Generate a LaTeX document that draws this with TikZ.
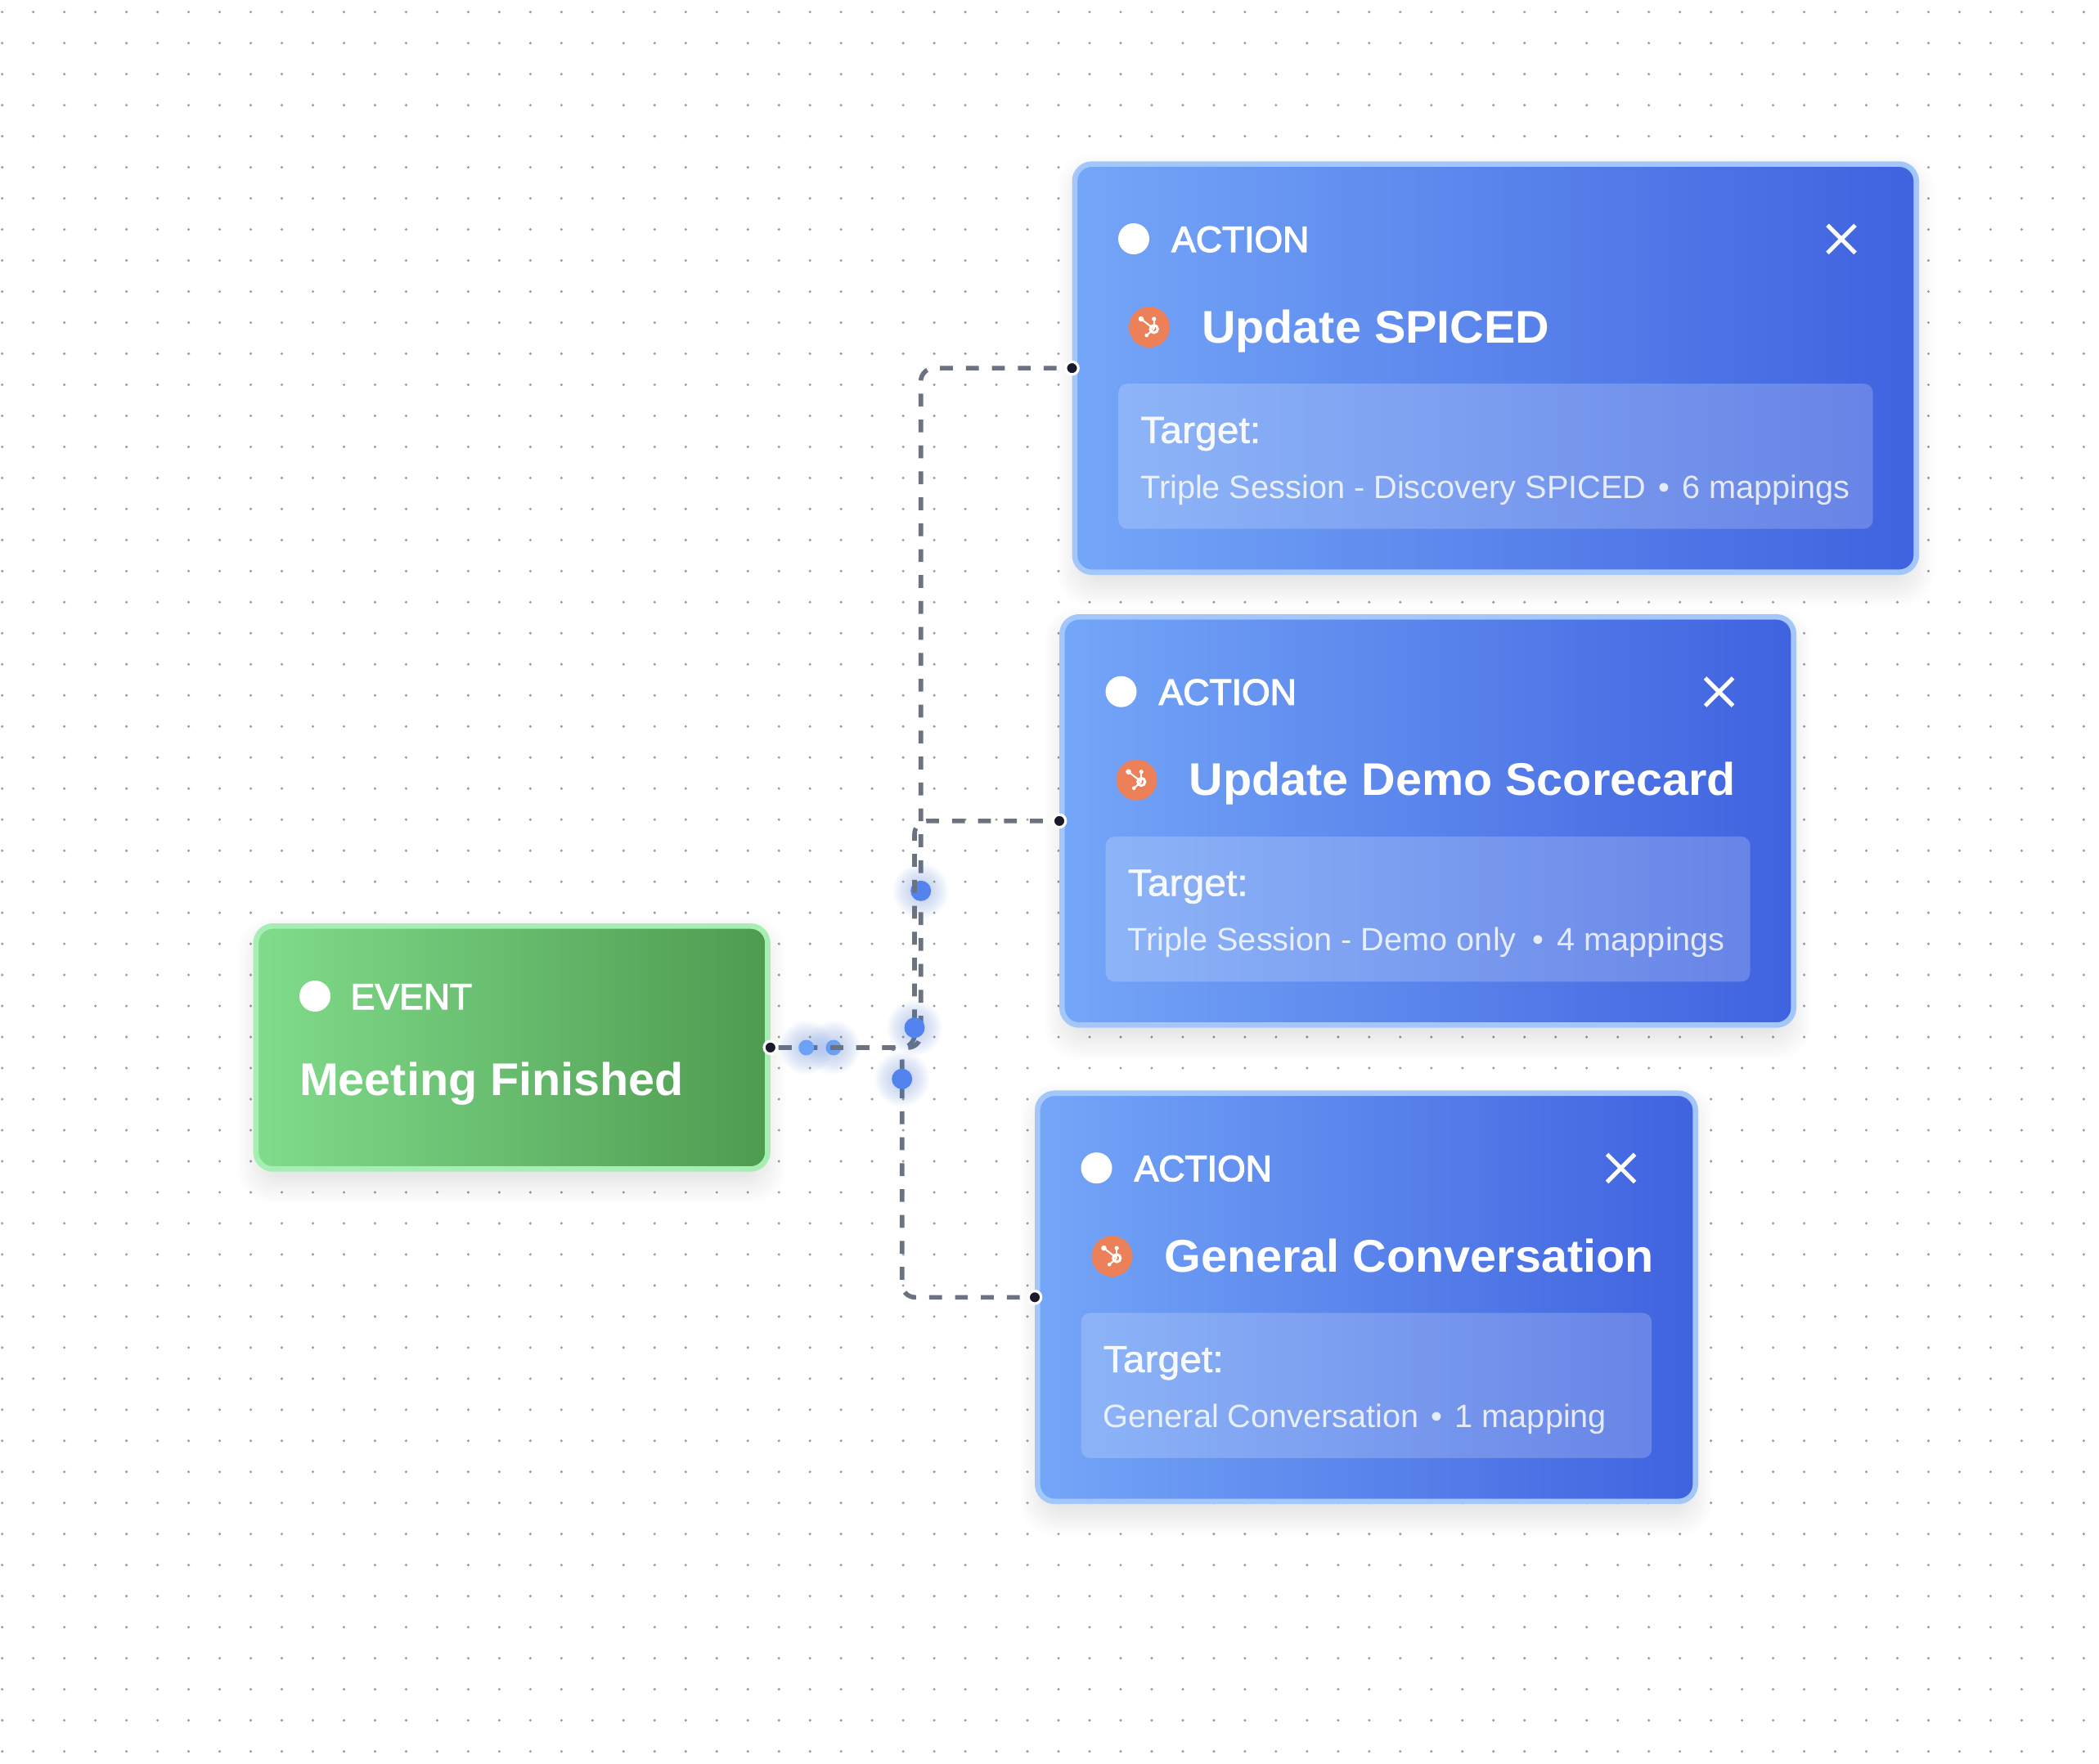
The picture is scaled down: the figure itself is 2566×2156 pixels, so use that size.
\documentclass[tikz,border=0pt]{standalone}
\usepackage{fontspec}
\usetikzlibrary{shapes.misc}
\setmainfont{Liberation Sans}
\newfontfamily\titlefont[FakeStretch=1.028]{Liberation Sans Bold}
\newfontfamily\labelfont[FakeBold=2.8]{Liberation Sans}
\newfontfamily\targetfont[FakeBold=1.2,FakeStretch=1.045]{Liberation Sans}
\newfontfamily\mapsfont[FakeStretch=1.005]{Liberation Sans}
\definecolor{actionleft}{HTML}{74A6F8}
\definecolor{actionright}{HTML}{3F62DF}
\definecolor{actionrim}{HTML}{A3C6FB}
\definecolor{eventleft}{HTML}{80DC8B}
\definecolor{eventright}{HTML}{4E9B50}
\definecolor{eventrim}{HTML}{A6EEB3}
\definecolor{griddot}{HTML}{9C9C9C}
\definecolor{wire}{HTML}{6B7280}
\definecolor{portdot}{HTML}{1A1A2E}
\definecolor{flowblue}{HTML}{5383EF}
\definecolor{flowlight}{HTML}{6CA1F5}
\definecolor{hubcolor}{HTML}{EC8159}
\tikzset{
  actionbox/.style={rectangle, draw=actionrim, line width=6.6pt, rounded corners=21pt, left color=actionleft, right color=actionright, minimum height=499.1pt, inner sep=0pt},
  eventbox/.style={rectangle, draw=eventrim, line width=6.6pt, rounded corners=21pt, left color=eventleft, right color=eventright, inner sep=0pt},
  targetbox/.style={rectangle, fill=white, fill opacity=0.2, rounded corners=11pt, anchor=north west, minimum height=177.5pt, inner sep=0pt},
  statedot/.style={circle, fill=white, minimum size=38pt, inner sep=0pt},
  hubdot/.style={circle, fill=hubcolor, minimum size=50pt, inner sep=0pt},
  closemark/.style={cross out, draw=white, line width=5pt, minimum size=29pt, inner sep=0pt},
  labeltext/.style={anchor=base west, inner sep=0pt, text=white, font=\labelfont\fontsize{44.5pt}{50pt}\selectfont},
  titletext/.style={anchor=base west, inner sep=0pt, text=white, font=\titlefont\fontsize{56pt}{62pt}\selectfont},
  targettext/.style={anchor=base west, inner sep=0pt, text=white, text opacity=0.93, font=\targetfont\fontsize{46pt}{50pt}\selectfont},
  mapstext/.style={anchor=base west, inner sep=0pt, text=white, text opacity=0.82, font=\mapsfont\fontsize{39.5pt}{44pt}\selectfont},
  port/.style={circle, fill=portdot, draw=white, line width=3.2pt, minimum size=15.5pt, inner sep=0pt},
  wireline/.style={draw=wire, line width=5.6pt, dash pattern=on 15.7pt off 16pt, dash phase=21.7pt, rounded corners=16pt},
  flowdot/.style={circle, fill=flowblue, minimum size=25pt, inner sep=0pt},
  flowsmall/.style={circle, fill=flowlight, minimum size=19pt, inner sep=0pt},
  hubicon/.pic={
    \draw[white, line width=3pt] (5.7,2.3) circle (4.6pt);
    \draw[white, line width=2pt] (5.7,2.3) -- (5.7,-10);
    \draw[white, line width=2pt] (5.7,2.3) -- (-10,-10);
    \draw[white, line width=2pt] (5.7,2.3) -- (-3.3,10);
    \fill[white] (5.7,-10) circle (2.6pt) (-10,-10) circle (3.3pt) (-3.3,10) circle (2.3pt);
  }
}
\newcommand{\softshadow}[4]{%
  \foreach \g in {0,3,...,33}
    \fill[black, opacity=0.006, rounded corners=24pt+\g*0.5pt] (#1-\g+15,#2-\g+25) rectangle (#3+\g-15,#4+\g+5);
}
\newcommand{\flowglow}[3]{%
  \foreach \g in {0,1.5,...,21}
    \fill[flowblue, opacity=0.02] (#1,#2) circle (#3pt+\g pt);
}
\begin{document}
\begin{tikzpicture}[x=1pt, y=-1pt, node distance=553.7pt]
    \useasboundingbox (0,0) rectangle (2566,2156);
    \fill[white] (0,0) rectangle (2566,2156);

    % dotted canvas
    \foreach \i in {0,...,67}
      \foreach \j in {0,...,56}
        \fill[griddot] (2.7+\i*37.98,14.7+\j*37.98) circle (1.7pt);

    % cards
    \softshadow{309.5}{1129}{941.8}{1432.7}
    \softshadow{1310.5}{197.3}{2346}{703}
    \softshadow{1295}{751}{2196}{1256.7}
    \softshadow{1265}{1333.3}{2076}{1839.3}

    \node (event) [eventbox, minimum width=625.7pt, minimum height=297.1pt] at (625.65,1280.85) {};
    \node (act1) [actionbox, minimum width=1028.9pt] at (1828.25,450.15) {};
    \node (act2) [actionbox, minimum width=894.4pt, below of=act1, xshift=-82.75pt] {};
    \node (act3) [actionbox, minimum width=804.4pt, below of=act2, xshift=-75pt, yshift=-28.75pt] {};

    \node (eventdot) [statedot] at ([shift={(75.5,89)}]event.north west) {};
    \node (eventlabel) [labeltext] at ([shift={(119,105)}]event.north west) {EVENT};
    \node (eventtitle) [titletext] at ([shift={(56.3,210.5)}]event.north west) {Meeting Finished};

    \node (dot1) [statedot] at ([shift={(75.5,94.7)}]act1.north west) {};
    \node (label1) [labeltext] at ([shift={(121.5,110.7)}]act1.north west) {ACTION};
    \node (close1) [closemark] at ([shift={(940.5,95)}]act1.north west) {};
    \node (hub1) [hubdot] at ([shift={(94.5,202.7)}]act1.north west) {};
    \pic at (hub1) {hubicon};
    \node (title1) [titletext] at ([shift={(158.3,221.7)}]act1.north west) {Update SPICED};
    \node (target1) [targetbox, minimum width=922.5pt] at ([shift={(56.5,271.7)}]act1.north west) {};
    \node (tgt1) [targettext] at ([shift={(83.5,344.3)}]act1.north west) {Target:};
    \node (map1) [mapstext] at ([shift={(83.5,411.7)}]act1.north west) {Triple Session - Discovery SPICED\hspace{4pt} • \hspace{4pt}6 mappings};

    \node (dot2) [statedot] at ([shift={(75.5,94.7)}]act2.north west) {};
    \node (label2) [labeltext] at ([shift={(121.5,110.7)}]act2.north west) {ACTION};
    \node (close2) [closemark] at ([shift={(806.5,95)}]act2.north west) {};
    \node (hub2) [hubdot] at ([shift={(94.5,202.7)}]act2.north west) {};
    \pic at (hub2) {hubicon};
    \node (title2) [titletext] at ([shift={(158.3,221.7)}]act2.north west) {Update Demo Scorecard};
    \node (target2) [targetbox, minimum width=787.8pt] at ([shift={(56.5,271.7)}]act2.north west) {};
    \node (tgt2) [targettext] at ([shift={(83.5,344.3)}]act2.north west) {Target:};
    \node (map2) [mapstext] at ([shift={(83.5,411.7)}]act2.north west) {Triple Session - Demo only\hspace{9pt} • \hspace{5pt}4 mappings};

    \node (dot3) [statedot] at ([shift={(75.5,94.7)}]act3.north west) {};
    \node (label3) [labeltext] at ([shift={(121.5,110.7)}]act3.north west) {ACTION};
    \node (close3) [closemark] at ([shift={(716.5,95)}]act3.north west) {};
    \node (hub3) [hubdot] at ([shift={(94.5,202.7)}]act3.north west) {};
    \pic at (hub3) {hubicon};
    \node (title3) [titletext] at ([shift={(158.3,221.7)}]act3.north west) {General Conversation};
    \node (target3) [targetbox, minimum width=697.5pt] at ([shift={(56.5,271.7)}]act3.north west) {};
    \node (tgt3) [targettext] at ([shift={(83.5,344.3)}]act3.north west) {Target:};
    \node (map3) [mapstext] at ([shift={(83.5,411.7)}]act3.north west) {General Conversation\hspace{4pt} • \hspace{4pt}1 mapping};

    % connectors with the moving dots between them
    \coordinate (bend1) at (1125.7,1281);
    \coordinate (bend2) at (1118,1281);
    \coordinate (bend3) at (1102.7,1281);

    \flowglow{1019}{1281}{12}
    \node (flow2) [flowsmall] at (1019,1281) {};
    \draw[wireline] (event.east) -- (bend1) |- (act1.west);
    \flowglow{1125.7}{1089.3}{13}
    \node (flow3) [flowdot] at (1125.7,1089.3) {};
    \draw[wireline] (event.east) -- (bend2) |- (act2.west);
    \flowglow{1118}{1256.7}{13}
    \node (flow4) [flowdot] at (1118,1256.7) {};
    \draw[wireline] (event.east) -- (bend3) |- (act3.west);
    \flowglow{1102.7}{1319.3}{13}
    \node (flow5) [flowdot] at (1102.7,1319.3) {};
    \flowglow{985.7}{1281}{12}
    \node (flow1) [flowsmall] at (985.7,1281) {};

    \node (port0) [port] at (event.east) {};
    \node (port1) [port] at (act1.west) {};
    \node (port2) [port] at (act2.west) {};
    \node (port3) [port] at (act3.west) {};
\end{tikzpicture}
\end{document}
